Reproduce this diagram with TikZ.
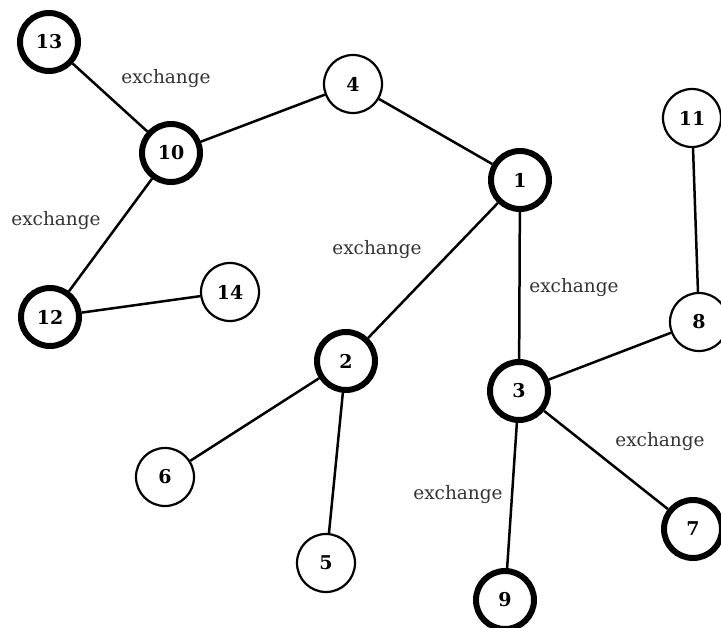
\documentclass[tikz,border=0pt]{standalone}
\usepackage{fontspec}
\setmainfont{DejaVu Serif}
\begin{document}
\begin{tikzpicture}[x=1pt,y=-1pt,
    thin vertex/.style={circle,draw=black,line width=2.2pt,minimum size=58pt,inner sep=0pt,font=\fontsize{19}{19}\selectfont\bfseries},
    thick vertex/.style={thin vertex,line width=6pt},
    link/.style={line width=2.5pt},
    xlabel/.style={text=black!80,font=\fontsize{18.5}{18.5}\selectfont}]
      \useasboundingbox (0,0) rectangle (721,628);
      \node[thick vertex] (n13) at (49,42) {13};
      \node[thick vertex] (n10) at (171,153) {10};
      \node[thin vertex] (n4) at (353,84) {4};
      \node[thick vertex] (n1) at (520,180) {1};
      \node[thin vertex] (n11) at (692,118) {11};
      \node[thick vertex] (n12) at (50,317) {12};
      \node[thin vertex] (n14) at (230,292) {14};
      \node[thick vertex] (n2) at (346,361) {2};
      \node[thin vertex] (n8) at (699,322) {8};
      \node[thick vertex] (n3) at (519,391) {3};
      \node[thin vertex] (n6) at (165,477) {6};
      \node[thin vertex] (n5) at (326,563) {5};
      \node[thick vertex] (n7) at (693,529) {7};
      \node[thick vertex] (n9) at (505,600) {9};
      \draw[link] (n13) -- (n10);
      \draw[link] (n10) -- (n4);
      \draw[link] (n4) -- (n1);
      \draw[link] (n10) -- (n12);
      \draw[link] (n12) -- (n14);
      \draw[link] (n1) -- (n2);
      \draw[link] (n1) -- (n3);
      \draw[link] (n2) -- (n6);
      \draw[link] (n2) -- (n5);
      \draw[link] (n3) -- (n8);
      \draw[link] (n8) -- (n11);
      \draw[link] (n3) -- (n7);
      \draw[link] (n3) -- (n9);
      \node[xlabel] (x1) at (166,79) {exchange};
      \node[xlabel] (x2) at (56,221) {exchange};
      \node[xlabel] (x3) at (377,250) {exchange};
      \node[xlabel] (x4) at (574,288) {exchange};
      \node[xlabel] (x5) at (660,442) {exchange};
      \node[xlabel] (x6) at (458,495) {exchange};
\end{tikzpicture}
\end{document}
